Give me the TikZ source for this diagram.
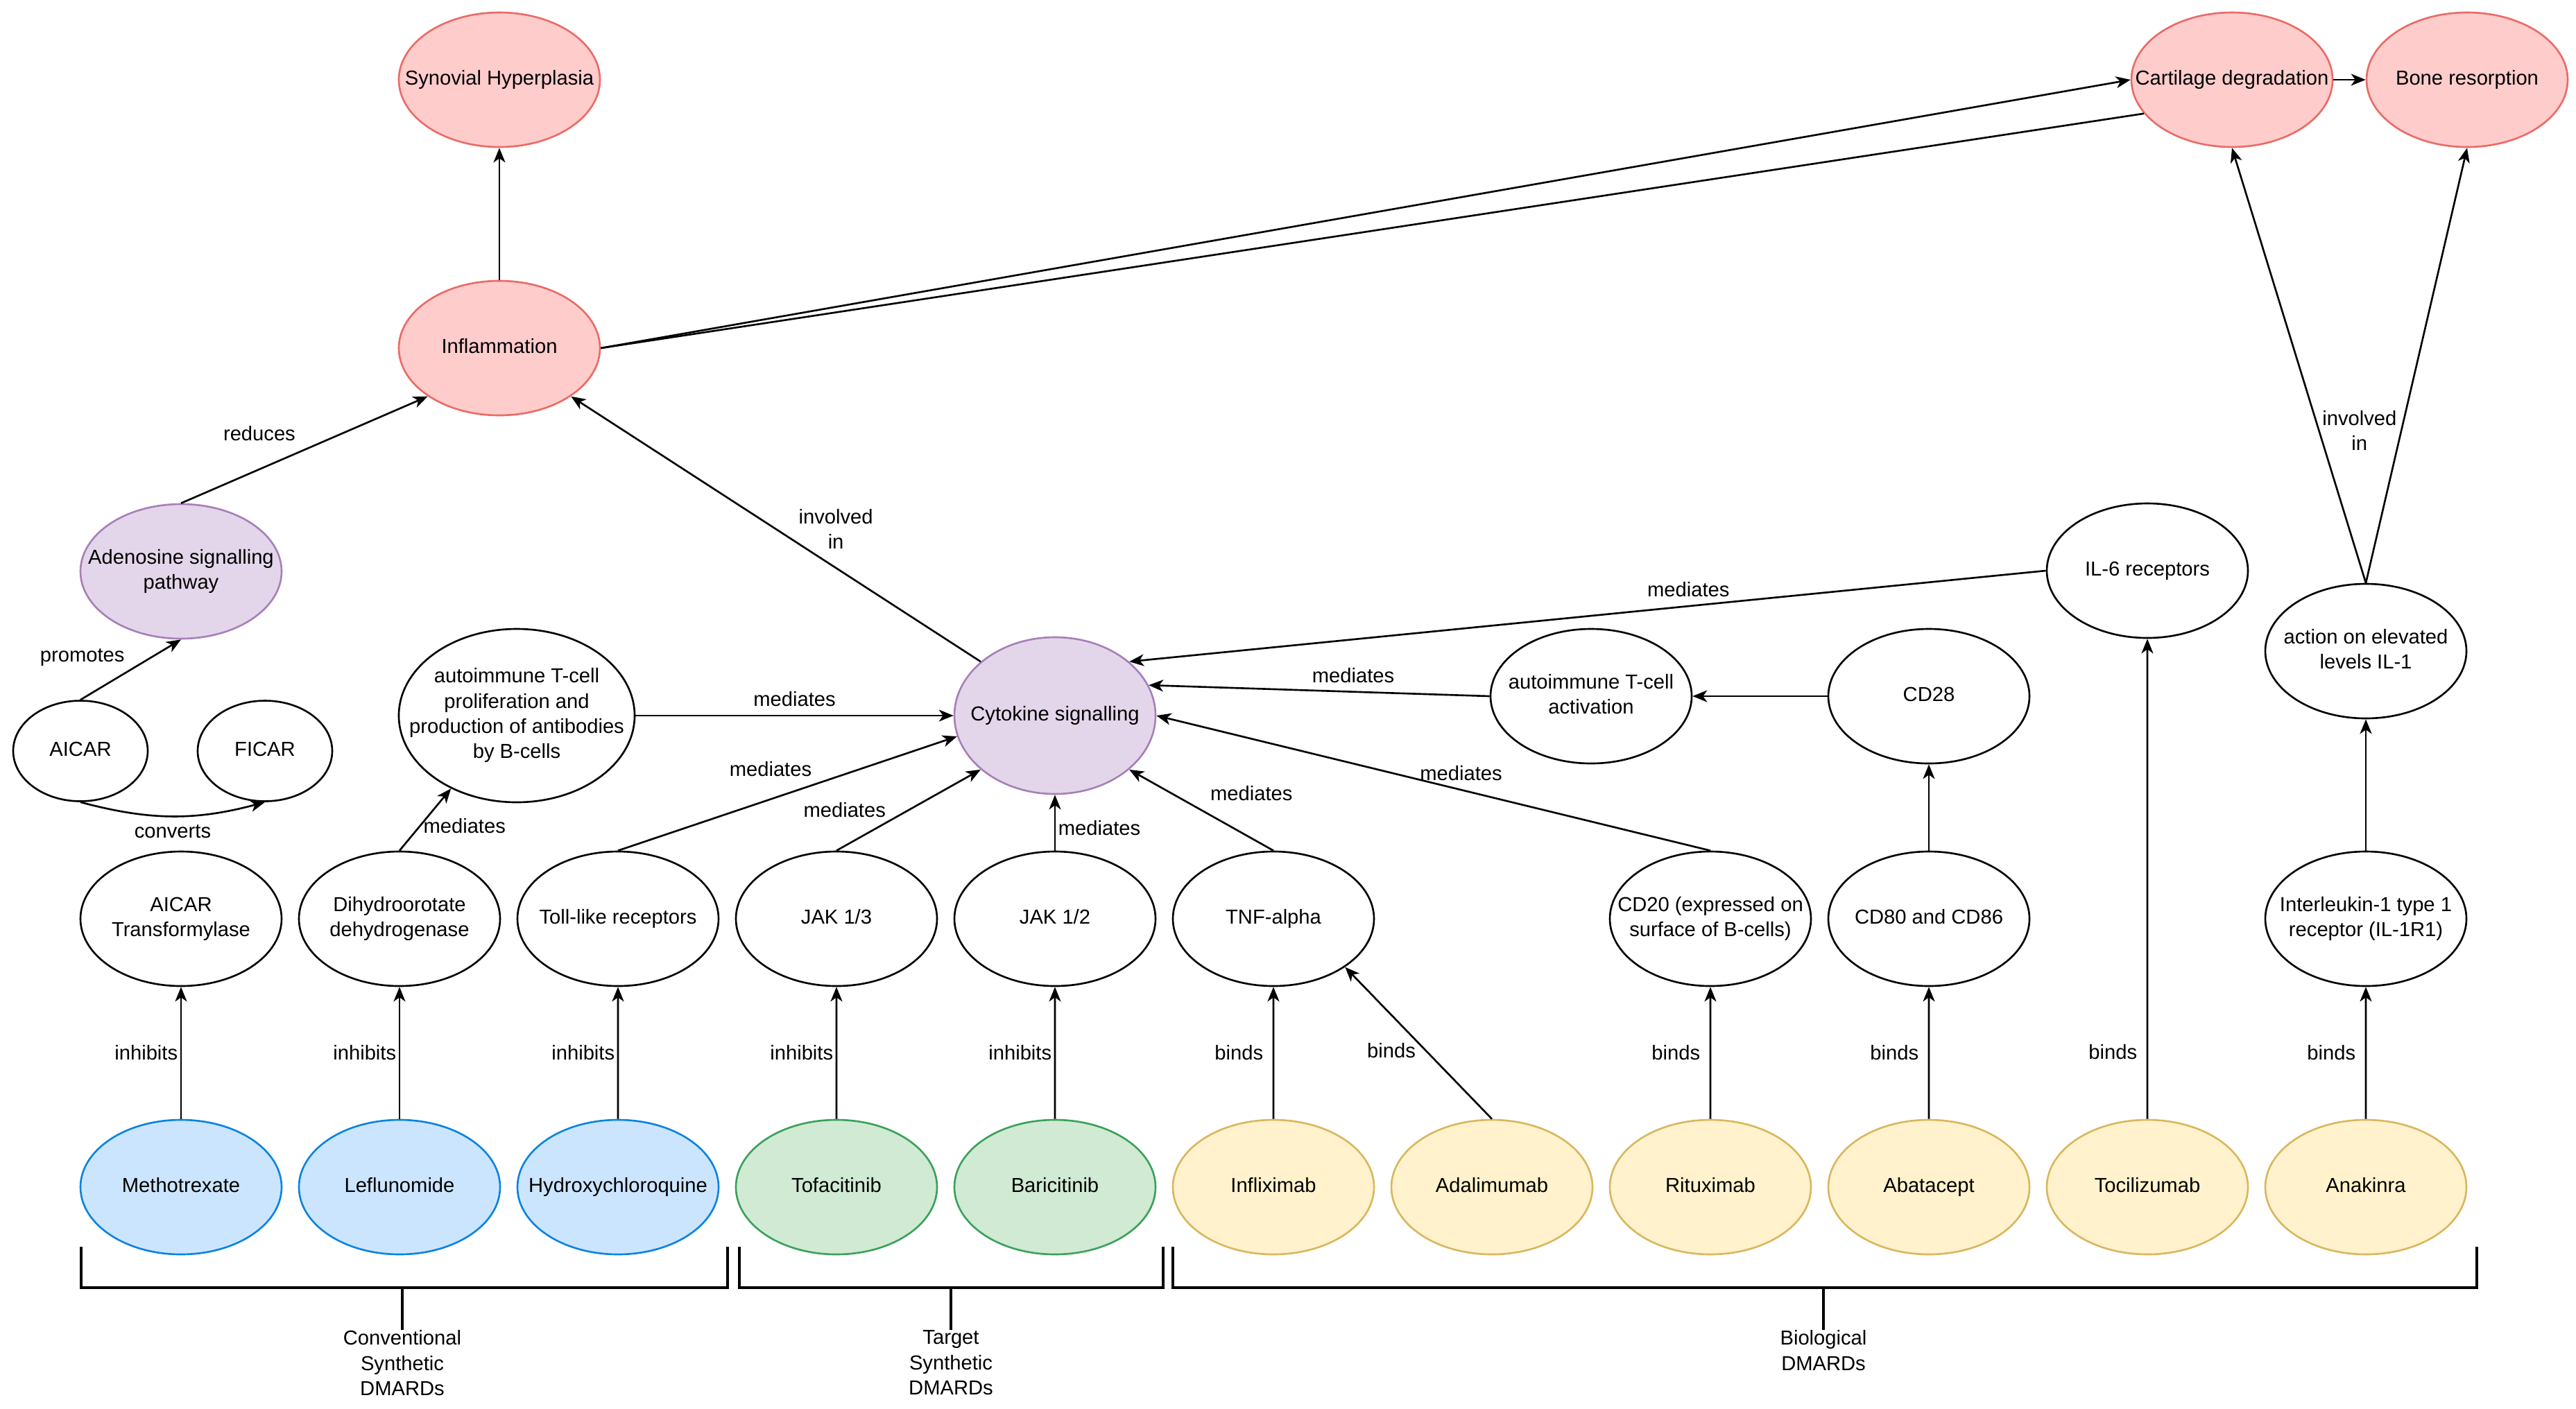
\documentclass[tikz,border=0pt]{standalone}
\usepackage{fontspec}
\setmainfont{Liberation Sans}
\usetikzlibrary{shapes.geometric,arrows.meta,positioning}

\definecolor{redfill}{HTML}{FFCCCC}
\definecolor{redline}{HTML}{EA6B66}
\definecolor{purplefill}{HTML}{E4D6EA}
\definecolor{purpleline}{HTML}{A680B8}
\definecolor{bluefill}{HTML}{CCE5FF}
\definecolor{blueline}{HTML}{0A84E0}
\definecolor{greenfill}{HTML}{D0EAD4}
\definecolor{greenline}{HTML}{3AA15A}
\definecolor{yellowfill}{HTML}{FFF2CC}
\definecolor{yellowline}{HTML}{D9B75E}

\newcommand{\elltext}[1]{\makebox[0pt]{\begin{tabular}{@{}c@{}}#1\end{tabular}}}

\tikzset{
  state/.style={ellipse, draw, line width=0.75pt, minimum width=2.9cm, minimum height=1.94cm, inner sep=0pt},
  smallstate/.style={state, minimum width=1.94cm, minimum height=1.45cm},
  effect/.style={state, fill=redfill, draw=redline},
  pathway/.style={state, fill=purplefill, draw=purpleline},
  csdmard/.style={state, fill=bluefill, draw=blueline},
  tsdmard/.style={state, fill=greenfill, draw=greenline},
  bdmard/.style={state, fill=yellowfill, draw=yellowline},
  arr/.style={line width=0.75pt, -{Stealth[length=2.1mm,width=1.7mm,inset=0.6mm]}},
  bracket/.style={line width=1.4pt},
  grp/.style={align=center, anchor=north, inner sep=0pt}
}

\begin{document}
\begin{tikzpicture}[font=\fontsize{8.3}{10.3}\selectfont]

    \useasboundingbox (0,0) rectangle (37.14,-20.31);

    \node[effect] (syn) at (7.20,-1.15) {\elltext{Synovial Hyperplasia}};
    \node[effect] (infl) at (7.20,-5.02) {\elltext{Inflammation}};
    \node[effect] (cart) at (32.18,-1.15) {\elltext{Cartilage degradation}};
    \node[effect] (bone) at (35.57,-1.15) {\elltext{Bone resorption}};

    \node[pathway] (aden) at (2.61,-8.24) {\elltext{Adenosine signalling\\pathway}};
    \node[pathway, minimum height=2.26cm] (cyto) at (15.21,-10.32) {\elltext{Cytokine signalling}};

    \node[smallstate] (aicar) at (1.16,-10.83) {\elltext{AICAR}};
    \node[smallstate] (ficar) at (3.82,-10.83) {\elltext{FICAR}};
    \node[state, minimum width=3.4cm, minimum height=2.5cm] (prol) at (7.45,-10.32)
        {\elltext{autoimmune T-cell\\proliferation and\\production of antibodies\\by B-cells}};
    \node[state] (act) at (22.94,-10.04) {\elltext{autoimmune T-cell\\activation}};
    \node[state] (cd28) at (27.81,-10.04) {\elltext{CD28}};
    \node[state] (il6) at (30.96,-8.23) {\elltext{IL-6 receptors}};
    \node[state] (il1) at (34.11,-9.39) {\elltext{action on elevated\\levels IL-1}};

    \node[state] (atf) at (2.61,-13.25) {\elltext{AICAR\\Transformylase}};
    \node[state] (dhodh) at (5.76,-13.25) {\elltext{Dihydroorotate\\dehydrogenase}};
    \node[state] (tlr) at (8.91,-13.25) {\elltext{Toll-like receptors}};
    \node[state] (jak13) at (12.06,-13.25) {\elltext{JAK 1/3}};
    \node[state] (jak12) at (15.21,-13.25) {\elltext{JAK 1/2}};
    \node[state] (tnf) at (18.36,-13.25) {\elltext{TNF-alpha}};
    \node[state] (cd20) at (24.66,-13.25) {\elltext{CD20 (expressed on\\surface of B-cells)}};
    \node[state] (cd8086) at (27.81,-13.25) {\elltext{CD80 and CD86}};
    \node[state] (il1r) at (34.11,-13.25) {\elltext{Interleukin-1 type 1\\receptor (IL-1R1)}};

    \foreach \n/\t [count=\i] in {mtx/Methotrexate, lef/Leflunomide, hcq/Hydroxychloroquine}
        \node[csdmard] (\n) at ({2.61+3.15*(\i-1)},-17.12) {\elltext{\t}};
    \foreach \n/\t [count=\i] in {tof/Tofacitinib, bar/Baricitinib}
        \node[tsdmard] (\n) at ({2.61+3.15*(\i+2)},-17.12) {\elltext{\t}};
    \foreach \n/\t [count=\i] in {inf/Infliximab, ada/Adalimumab, rit/Rituximab, aba/Abatacept, toc/Tocilizumab, ana/Anakinra}
        \node[bdmard] (\n) at ({2.61+3.15*(\i+4)},-17.12) {\elltext{\t}};

    \draw[arr] (infl) -- (syn);
    \draw[arr] (infl.east) -- (cart.west);
    \draw[line width=0.75pt] (infl.east) -- (cart.201);
    \draw[arr] (cart) -- (bone);
    \draw[arr] (aden.north) -- node[above left] {reduces} (infl.214);
    \draw[arr] (cyto.144) -- node[right=2mm, align=center] {involved\\in} (infl.326);
    \draw[arr] (aicar.north) -- node[pos=0.7, left=2.5mm] {promotes} (aden.south);
    \draw[arr] (aicar.south) to[bend right=15] node[below] {converts} (ficar.south);

    \draw[arr] (dhodh.north) -- node[pos=0.4, right, inner sep=1pt] {mediates} (prol.228);
    \draw[arr] (prol.east) -- node[above] {mediates} (cyto.west);
    \draw[arr] (tlr.north) -- node[pos=0.45, above=2mm] {mediates} (cyto.192);
    \draw[arr] (jak13.north) -- node[left=2mm] {mediates} (cyto.216);
    \draw[arr] (jak12) -- node[pos=0.4, right, inner sep=1pt] {mediates} (cyto);
    \draw[arr] (tnf.north) -- node[above right] {mediates} (cyto.324);
    \draw[arr] (cd20.north) -- node[pos=0.45, above] {mediates} (cyto.east);
    \draw[arr] (act.west) -- node[pos=0.4, above] {mediates} (cyto.18);
    \draw[arr] (il6.west) -- node[pos=0.39, above] {mediates} (cyto.36);
    \draw[arr] (cd28) -- (act);
    \draw[arr] (cd8086) -- (cd28);
    \draw[arr] (il1r) -- (il1);
    \draw[arr] (il1.north) -- node[pos=0.35, right, inner sep=1pt, align=center] {involved\\in} (cart.south);
    \draw[arr] (il1.north) -- (bone.south);

    \foreach \a/\b in {mtx/atf, lef/dhodh, hcq/tlr, tof/jak13, bar/jak12}
        \draw[arr] (\a) -- node[left, inner sep=1pt] {inhibits} (\b);
    \foreach \a/\b in {inf/tnf, rit/cd20, aba/cd8086, ana/il1r}
        \draw[arr] (\a) -- node[left=1mm, inner sep=1pt] {binds} (\b);
    \draw[arr] (ada.north) -- node[pos=0.45, left=1mm, inner sep=1pt] {binds} (tnf.326);
    \draw[arr] (toc) -- node[pos=0.14, left=1mm, inner sep=1pt] {binds} (il6);

    \node[grp] (conv) at (5.80,-19.18) {Conventional\\Synthetic\\DMARDs};
    \node[grp] (tsd) at (13.71,-19.18) {Target\\Synthetic\\DMARDs};
    \node[grp] (bio) at (26.29,-19.18) {Biological\\DMARDs};

    \draw[bracket] (1.17,-17.98) |- (10.49,-18.57) -- (10.49,-17.98);
    \draw[bracket] (10.66,-17.98) |- (16.77,-18.57) -- (16.77,-17.98);
    \draw[bracket] (16.91,-17.98) |- (35.71,-18.57) -- (35.71,-17.98);
    \draw[bracket] (conv.north) -- ++(0,0.61);
    \draw[bracket] (tsd.north) -- ++(0,0.61);
    \draw[bracket] (bio.north) -- ++(0,0.61);

\end{tikzpicture}
\end{document}
